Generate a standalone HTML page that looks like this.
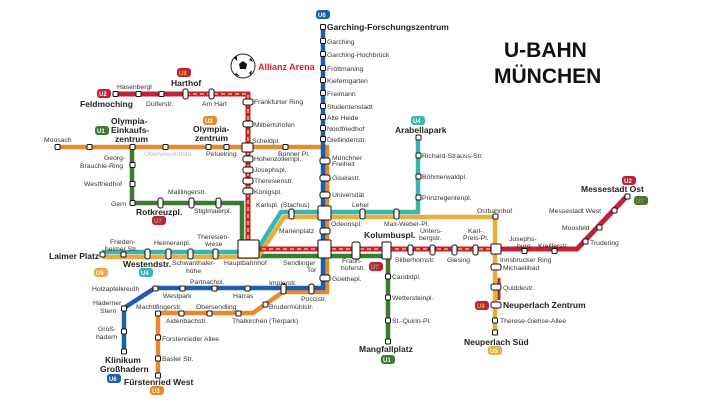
<!DOCTYPE html>
<html><head><meta charset="utf-8"><style>
body{margin:0;background:#fff}
svg{display:block}
text{font-family:"Liberation Sans","DejaVu Sans",sans-serif;font-size:6.8px;fill:#333}
.b{font-weight:bold;font-size:8.5px;fill:#222}
.bd{font-weight:bold;font-size:6px;fill:#fff}
</style></head><body>
<svg width="720" height="405" viewBox="0 0 720 405" xmlns="http://www.w3.org/2000/svg">
<g fill="none" stroke-linejoin="miter">
<path d="M57,147 H327 V292 H283 L253,313 H158 V375" stroke="#e8892e" stroke-width="4.5"/>
<path d="M323,27 V288 H155 L124,308 V351" stroke="#1b5fae" stroke-width="4.5"/>
<path d="M132,147 V203 H242 V256 H388 V341" stroke="#3a7d2c" stroke-width="4.5"/>
<path d="M102,252 H256 L281,212 H418 V137" stroke="#3bb5b0" stroke-width="4.5"/>
<path d="M102,257 H258 L284,217 H495 V332" stroke="#e8ad3c" stroke-width="4.5"/>
<path d="M115,94 H248 V249 H577 L627,196" stroke="#c3203a" stroke-width="5"/>
<path d="M499,278 V300" stroke="#c3203a" stroke-width="3"/>
<path d="M186,94 H248 V249 H496" stroke="#e8ad3c" stroke-width="1.8" stroke-dasharray="4,3"/>
</g>
<g fill="#fff" stroke="#111" stroke-width="1">
<rect x="320.5" y="24.5" width="5" height="5" rx="1"/><rect x="320.5" y="38.5" width="5" height="5" rx="1"/><rect x="320.5" y="51.5" width="5" height="5" rx="1"/><rect x="320.5" y="65.5" width="5" height="5" rx="1"/><rect x="320.5" y="77.5" width="5" height="5" rx="1"/><rect x="320.5" y="90.5" width="5" height="5" rx="1"/><rect x="320.5" y="103.5" width="5" height="5" rx="1"/><rect x="320.5" y="114.5" width="5" height="5" rx="1"/><rect x="320.5" y="125.5" width="5" height="5" rx="1"/><rect x="320.5" y="136.5" width="5" height="5" rx="1"/>
<rect x="320" y="158" width="10" height="6" rx="2"/><rect x="320" y="175" width="10" height="6" rx="2"/><rect x="320" y="192" width="10" height="6" rx="2"/><rect x="318" y="206" width="13" height="14" rx="1"/><rect x="320" y="228" width="10" height="6" rx="2"/><rect x="318" y="240" width="13" height="18" rx="1"/><rect x="320" y="275" width="10" height="6" rx="2"/>
<rect x="309" y="284" width="5" height="10" rx="2"/><rect x="281" y="284" width="5" height="10" rx="2"/><rect x="245" y="286" width="5" height="5" rx="1"/><rect x="212" y="286" width="5" height="5" rx="1"/><rect x="180" y="286" width="5" height="5" rx="1"/><rect x="153" y="286" width="5" height="5" rx="1"/><rect x="121.5" y="306" width="5" height="5" rx="1"/><rect x="121.5" y="329" width="5" height="5" rx="1"/><rect x="121.5" y="349" width="5" height="5" rx="1"/>
<rect x="263" y="302" width="5" height="5" rx="1"/><rect x="236" y="311" width="5" height="5" rx="1"/><rect x="207" y="311" width="5" height="5" rx="1"/><rect x="179" y="311" width="5" height="5" rx="1"/><rect x="155.5" y="311" width="5" height="5" rx="1"/><rect x="155.5" y="335" width="5" height="5" rx="1"/><rect x="155.5" y="356" width="5" height="5" rx="1"/><rect x="155.5" y="373" width="5" height="5" rx="1"/>
<rect x="55" y="144.5" width="5" height="5" rx="1"/><rect x="87" y="144.5" width="5" height="5" rx="1"/><rect x="130" y="144.5" width="5" height="5" rx="1"/><rect x="163" y="144.5" width="5" height="5" rx="1"/><rect x="206" y="144.5" width="5" height="5" rx="1"/><rect x="224" y="144.5" width="5" height="5" rx="1"/><rect x="283" y="144.5" width="5" height="5" rx="1"/>
<rect x="113" y="91.5" width="5" height="5" rx="1"/><rect x="136" y="91.5" width="5" height="5" rx="1"/><rect x="159" y="91.5" width="5" height="5" rx="1"/><rect x="183" y="89" width="5" height="10" rx="2"/><rect x="209" y="89" width="5" height="10" rx="2"/>
<rect x="243" y="99" width="10" height="6" rx="2"/><rect x="243" y="121" width="10" height="6" rx="2"/><rect x="242" y="143" width="11" height="9" rx="1"/><rect x="243" y="156" width="10" height="6" rx="2"/><rect x="243" y="167" width="10" height="6" rx="2"/><rect x="243" y="178" width="10" height="6" rx="2"/><rect x="243" y="188" width="10" height="6" rx="2"/>
<rect x="130" y="162.5" width="5" height="5" rx="1"/><rect x="130" y="181.5" width="5" height="5" rx="1"/><rect x="130" y="200.5" width="5" height="5" rx="1"/><rect x="158" y="198" width="5" height="10" rx="2"/><rect x="189" y="198" width="5" height="10" rx="2"/><rect x="216" y="198" width="5" height="10" rx="2"/>
<rect x="385.5" y="274" width="5" height="5" rx="1"/><rect x="385.5" y="295" width="5" height="5" rx="1"/><rect x="385.5" y="318" width="5" height="5" rx="1"/><rect x="385.5" y="339" width="5" height="5" rx="1"/>
<rect x="100" y="252" width="5" height="5" rx="1"/><rect x="121" y="252" width="5" height="5" rx="1"/><rect x="145" y="249" width="5" height="10" rx="2"/><rect x="166" y="249" width="5" height="10" rx="2"/><rect x="188" y="249" width="5" height="10" rx="2"/><rect x="213" y="249" width="5" height="10" rx="2"/>
<rect x="238" y="240" width="21" height="18" rx="1"/>
<rect x="289" y="209" width="5" height="10" rx="2"/><rect x="360" y="209" width="5" height="10" rx="2"/><rect x="394" y="209" width="5" height="10" rx="2"/><rect x="493" y="214" width="5" height="5" rx="1"/>
<rect x="416" y="135" width="5" height="5" rx="1"/><rect x="416" y="153" width="5" height="5" rx="1"/><rect x="416" y="174" width="5" height="5" rx="1"/><rect x="416" y="195" width="5" height="5" rx="1"/>
<rect x="352" y="242" width="8" height="17" rx="2"/><rect x="382" y="242" width="9" height="17" rx="1"/><rect x="408" y="245" width="5" height="10" rx="2"/><rect x="430" y="245" width="5" height="10" rx="2"/><rect x="452" y="245" width="5" height="10" rx="2"/><rect x="473" y="245" width="5" height="10" rx="2"/><rect x="491" y="244" width="10" height="10" rx="1"/>
<rect x="522" y="248.5" width="5" height="5" rx="1"/><rect x="552" y="248.5" width="5" height="5" rx="1"/><rect x="583" y="239" width="5" height="5" rx="1"/><rect x="597" y="225" width="5" height="5" rx="1"/><rect x="612" y="208" width="5" height="5" rx="1"/><rect x="625" y="194" width="5" height="5" rx="1"/>
<rect x="491" y="264" width="10" height="6" rx="2"/><rect x="491" y="284" width="10" height="6" rx="2"/><rect x="491" y="302" width="10" height="6" rx="2"/><rect x="492.5" y="318" width="5" height="5" rx="1"/><rect x="492.5" y="330" width="5" height="5" rx="1"/>
</g>
<circle cx="243" cy="66" r="12" fill="#fff" stroke="#222" stroke-width="1"/>
<g fill="#111"><polygon points="243,61 247,64 246,69 240,69 239,64"/><polygon points="234,58 237,56 237,61"/><polygon points="251,58 253,62 249,60"/><polygon points="236,73 240,76 235,75"/><polygon points="249,73 252,70 251,75"/></g>
<text x="258" y="70" style="font-weight:bold;font-size:9px;fill:#e0202e">Allianz Arena</text>
<text x="504" y="57" style="font-weight:bold;font-size:21px;fill:#111">U-BAHN</text>
<text x="494" y="83" style="font-weight:bold;font-size:21px;fill:#111">MÜNCHEN</text>
<g>
<rect x="316" y="10" width="14" height="9" rx="3" fill="#1b5fae"/><text class="bd" x="318" y="17">U6</text>
<rect x="97" y="89" width="14" height="9" rx="3" fill="#c3203a"/><text class="bd" x="99" y="96">U2</text>
<rect x="177" y="68" width="14" height="9" rx="3" fill="#c3203a"/><text class="bd" x="179" y="75" style="fill:#e8ad3c">U8</text>
<rect x="95" y="126" width="14" height="9" rx="3" fill="#3a7d2c"/><text class="bd" x="97" y="133">U1</text>
<rect x="203" y="116" width="14" height="9" rx="3" fill="#e8892e"/><text class="bd" x="205" y="123">U3</text>
<rect x="152" y="216" width="14" height="9" rx="3" fill="#c3203a"/><text class="bd" x="154" y="223" style="fill:#6c6">U7</text>
<rect x="411" y="116" width="14" height="9" rx="3" fill="#3bb5b0"/><text class="bd" x="413" y="123">U4</text>
<rect x="94" y="268" width="14" height="9" rx="3" fill="#e8ad3c"/><text class="bd" x="96" y="275">U5</text>
<rect x="139" y="268" width="14" height="9" rx="3" fill="#3bb5b0"/><text class="bd" x="141" y="275">U4</text>
<rect x="107" y="374" width="14" height="9" rx="3" fill="#1b5fae"/><text class="bd" x="109" y="381">U6</text>
<rect x="150" y="386" width="14" height="9" rx="3" fill="#e8892e"/><text class="bd" x="152" y="393">U3</text>
<rect x="369" y="262" width="14" height="9" rx="3" fill="#c3203a"/><text class="bd" x="371" y="269" style="fill:#6c6">U7</text>
<rect x="381" y="355" width="14" height="9" rx="3" fill="#3a7d2c"/><text class="bd" x="383" y="362">U1</text>
<rect x="488" y="346" width="14" height="9" rx="3" fill="#e8ad3c"/><text class="bd" x="490" y="353">U5</text>
<rect x="475" y="301" width="14" height="9" rx="3" fill="#c3203a"/><text class="bd" x="477" y="308" style="fill:#e8ad3c">U8</text>
<rect x="622" y="176" width="14" height="9" rx="3" fill="#c3203a"/><text class="bd" x="624" y="183">U2</text>
<rect x="634" y="196" width="14" height="9" rx="3" fill="#3a7d2c"/><text class="bd" x="636" y="203" style="fill:#e66">U7</text>
</g>
<text class="b" x="327" y="30">Garching-Forschungszentrum</text>
<text x="327" y="44">Garching</text><text x="327" y="57">Garching-Hochbrück</text><text x="327" y="71">Fröttmaning</text><text x="327" y="83">Kieferngarten</text><text x="327" y="96">Freimann</text><text x="327" y="109">Studentenstadt</text><text x="327" y="120">Alte Heide</text><text x="327" y="131">Nordfriedhof</text><text x="327" y="142">Dietlindenstr.</text>
<text x="332" y="160">Münchner</text><text x="332" y="166">Freiheit</text><text x="332" y="180">Giselastr.</text><text x="332" y="197">Universität</text><text x="331" y="226">Odeonspl.</text><text x="279" y="233">Marienplatz</text><text x="283" y="265">Sendlinger</text><text x="307" y="272">Tor</text><text x="332" y="281">Goethepl.</text>
<text x="301" y="301">Poccistr.</text><text x="269" y="285">Implerstr.</text><text x="269" y="309">Brudermühlstr.</text><text x="232" y="323">Thalkirchen (Tierpark)</text><text x="196" y="309">Obersendling</text><text x="166" y="323">Aidenbachstr.</text><text x="136" y="309">Machtlfingerstr.</text>
<text x="162" y="341">Forstenrieder Allee</text><text x="162" y="361">Basler Str.</text><text class="b" x="124" y="385">Fürstenried West</text>
<text x="190" y="284">Partnachpl.</text><text x="163" y="298">Westpark</text><text x="233" y="298">Harras</text><text x="92" y="291">Holzapfelkreuth</text><text x="93" y="305">Haderner</text><text x="100" y="313">Stern</text><text x="98" y="331">Groß-</text><text x="96" y="339">hadern</text><text class="b" x="105" y="363">Klinikum</text><text class="b" x="100" y="372">Großhadern</text>
<text class="b" x="80" y="107">Feldmoching</text><text x="117" y="89">Hasenbergl</text><text x="146" y="106">Dülferstr.</text><text class="b" x="171" y="86">Harthof</text><text x="202" y="106">Am Hart</text>
<text x="254" y="104">Frankfurter Ring</text><text x="254" y="127">Milbertshofen</text><text x="252" y="143">Scheidpl.</text><text x="278" y="156">Bonner Pl.</text><text x="254" y="161">Hohenzollernpl.</text><text x="254" y="172">Josephspl.</text><text x="254" y="183">Theresienstr.</text><text x="254" y="194">Königspl.</text><text x="256" y="207">Karlspl. (Stachus)</text>
<text x="44" y="142">Moosach</text><text class="b" x="111" y="124">Olympia-</text><text class="b" x="111" y="133">Einkaufs-</text><text class="b" x="115" y="142">zentrum</text><text class="b" x="193" y="132">Olympia-</text><text class="b" x="195" y="141">zentrum</text><text x="144" y="156" style="fill:#bbb">Oberwiesenfeld</text><text x="206" y="156">Petuelring</text>
<text x="104" y="160">Georg-</text><text x="80" y="168">Brauchle-Ring</text><text x="84" y="186">Westfriedhof</text><text x="111" y="206">Gern</text><text class="b" x="136" y="215">Rotkreuzpl.</text><text x="168" y="194">Maillingerstr.</text><text x="194" y="213">Stiglmaierpl.</text>
<text class="b" x="49" y="259">Laimer Platz</text><text x="110" y="244">Frieden-</text><text x="105" y="251">heimer Str.</text><text class="b" x="123" y="267">Westendstr.</text><text x="154" y="245">Heimeranpl.</text><text x="172" y="265">Schwanthaler-</text><text x="186" y="273">höhe</text><text x="197" y="239">Theresien-</text><text x="205" y="246">wiese</text><text x="224" y="265">Hauptbahnhof</text>
<text x="352" y="207">Lehel</text><text x="384" y="226">Max-Weber-Pl.</text><text class="b" x="364" y="238">Kolumbuspl.</text><text x="342" y="263">Fraun-</text><text x="341" y="270">hoferstr.</text><text x="395" y="262">Silberhornstr.</text><text x="420" y="233">Unters-</text><text x="419" y="240">bergstr.</text><text x="447" y="262">Giesing</text><text x="468" y="233">Karl-</text><text x="463" y="240">Preis-Pl.</text>
<text x="392" y="279">Candidpl.</text><text x="392" y="300">Wettersteinpl.</text><text x="392" y="323">St.-Quirin-Pl.</text><text class="b" x="359" y="352">Mangfallplatz</text>
<text class="b" x="395" y="133">Arabellapark</text><text x="422" y="158">Richard-Strauss-Str.</text><text x="422" y="179">Böhmerwaldpl.</text><text x="422" y="200">Prinzregentenpl.</text><text x="477" y="213">Ostbahnhof</text>
<text x="500" y="262">Innsbrucker Ring</text><text x="503" y="270">Michaelibad</text><text x="503" y="290">Quiddestr.</text><text class="b" x="503" y="308">Neuperlach Zentrum</text><text x="500" y="323">Therese-Giehse-Allee</text><text class="b" x="464" y="345">Neuperlach Süd</text>
<text x="509" y="241">Josephs-</text><text x="517" y="248">burg</text><text x="538" y="248">Kreillerstr.</text><text x="590" y="245">Trudering</text><text x="562" y="230">Moosfeld</text><text x="549" y="213">Messestadt West</text><text class="b" x="581" y="192">Messestadt Ost</text>
</svg>
</body></html>
